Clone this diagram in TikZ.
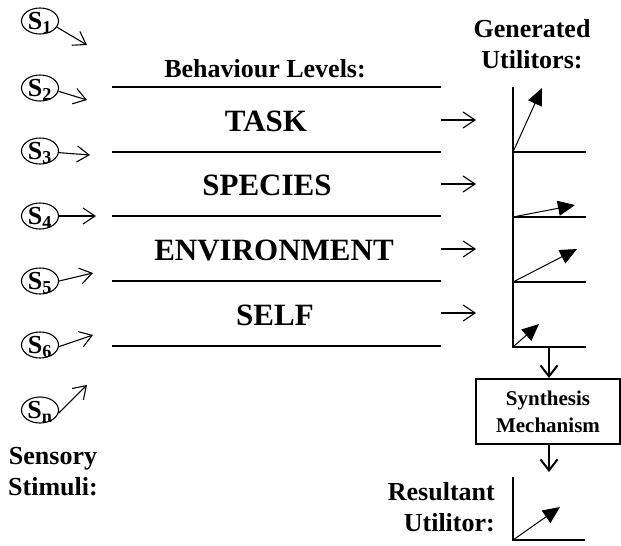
\documentclass[tikz,border=0pt]{standalone}
\usepackage{fontspec}
\setmainfont{Liberation Serif}
\usetikzlibrary{arrows.meta,shapes.geometric}

\begin{document}
\begin{tikzpicture}[x=1pt,y=-1pt,
  sens/.style={draw,ellipse,line width=1.1pt,minimum width=37pt,minimum height=26pt,inner sep=0pt},
  stxt/.style={font=\fontsize{26}{31}\selectfont\bfseries,inner sep=0pt},
  lbl/.style={font=\fontsize{26}{31}\selectfont\bfseries,align=center,inner sep=0pt},
  lvl/.style={font=\fontsize{31}{36}\selectfont\bfseries,inner sep=0pt},
  sarr/.style={line width=1.1pt,-{Straight Barb[length=12pt,width=16pt]}},
  level/.style={line width=2.5pt},
  vec/.style={line width=1pt,-{Triangle[length=17pt,width=15pt]}},
  down/.style={line width=2.5pt,-{Straight Barb[length=11pt,width=17pt,line width=2pt]}}]
  \useasboundingbox (0,0) rectangle (621,546);

  \node[sens] (s1) at (40,21) {};
  \node[sens] (s2) at (40,88) {};
  \node[sens] (s3) at (40,151) {};
  \node[sens] (s4) at (40,216) {};
  \node[sens] (s5) at (40,281) {};
  \node[sens] (s6) at (40,345) {};
  \node[sens] (sn) at (40,410) {};
  \node[stxt] at ([yshift=-2pt]s1) {S\textsubscript{1}};
  \node[stxt] at ([yshift=-2pt]s2) {S\textsubscript{2}};
  \node[stxt] at ([yshift=-2pt]s3) {S\textsubscript{3}};
  \node[stxt] at ([yshift=-2pt]s4) {S\textsubscript{4}};
  \node[stxt] at ([yshift=-2pt]s5) {S\textsubscript{5}};
  \node[stxt] at ([yshift=-2pt]s6) {S\textsubscript{6}};
  \node[stxt] at ([yshift=-2pt]sn) {S\textsubscript{n}};

  \coordinate (t1) at (87,45);
  \coordinate (t2) at (87,100);
  \coordinate (t3) at (90,155);
  \coordinate (t4) at (96,216);
  \coordinate (t5) at (93,273);
  \coordinate (t6) at (93,335);
  \coordinate (tn) at (87,385);
  \draw[sarr] (s1.-20) -- (t1);
  \draw[sarr] (s2.-10) -- (t2);
  \draw[sarr] (s3.-5) -- (t3);
  \draw[sarr] (s4.east) -- (t4);
  \draw[sarr] (s5.east) -- (t5);
  \draw[sarr] (s6.-5) -- (t6);
  \draw[sarr] (sn.-10) -- (tn);

  \node[lbl] (sensory) at (53,472) {Sensory\\Stimuli:};

  \node[lbl] (levels) at (265,69) {Behaviour Levels:};
  \draw[level] (112,87) -- (441,87);
  \draw[level] (112,152) -- (441,152);
  \draw[level] (112,216) -- (441,216);
  \draw[level] (112,281) -- (441,281);
  \draw[level] (112,346) -- (441,346);
  \node[lvl] (task) at (266,121) {TASK};
  \node[lvl] (species) at (267,185) {SPECIES};
  \node[lvl] (environment) at (274,250) {ENVIRONMENT};
  \node[lvl] (self) at (275,315) {SELF};

  \coordinate (a1) at (441,120);  \coordinate (b1) at (476,120);
  \coordinate (a2) at (441,184);  \coordinate (b2) at (476,184);
  \coordinate (a3) at (441,249);  \coordinate (b3) at (476,249);
  \coordinate (a4) at (441,313);  \coordinate (b4) at (476,313);
  \draw[sarr] (a1) -- (b1);
  \draw[sarr] (a2) -- (b2);
  \draw[sarr] (a3) -- (b3);
  \draw[sarr] (a4) -- (b4);

  \node[lbl] (generated) at (532,44) {Generated\\Utilitors:};
  \draw[level] (513,87) -- (513,347);
  \draw[level] (513,152) -- (586,152);
  \draw[level] (513,217) -- (586,217);
  \draw[level] (513,282) -- (586,282);
  \draw[level] (511.75,347) -- (586,347);
  \draw[vec] (513,152) -- (542,88);
  \draw[vec] (513,217) -- (575,205);
  \draw[vec] (513,282) -- (577,249);
  \draw[vec] (513,347) -- (539,324);

  \node[draw,line width=2pt,minimum width=144pt,minimum height=65pt,
    font=\fontsize{21}{27}\selectfont\bfseries,align=center,inner sep=0pt]
    (synth) at (548,411.5) {Synthesis\\Mechanism};
  \coordinate (gout) at (549,347);
  \coordinate (rin) at (549,472);
  \draw[down] (gout) -- (synth.north -| gout);
  \draw[down] (synth.south -| rin) -- (rin);

  \node[lbl,align=right,anchor=east] (resultant) at (495,507) {Resultant\\Utilitor:};
  \draw[level] (513,477) -- (513,540);
  \draw[level] (511.75,540) -- (585,540);
  \draw[vec] (513,540) -- (560,507);
\end{tikzpicture}
\end{document}
